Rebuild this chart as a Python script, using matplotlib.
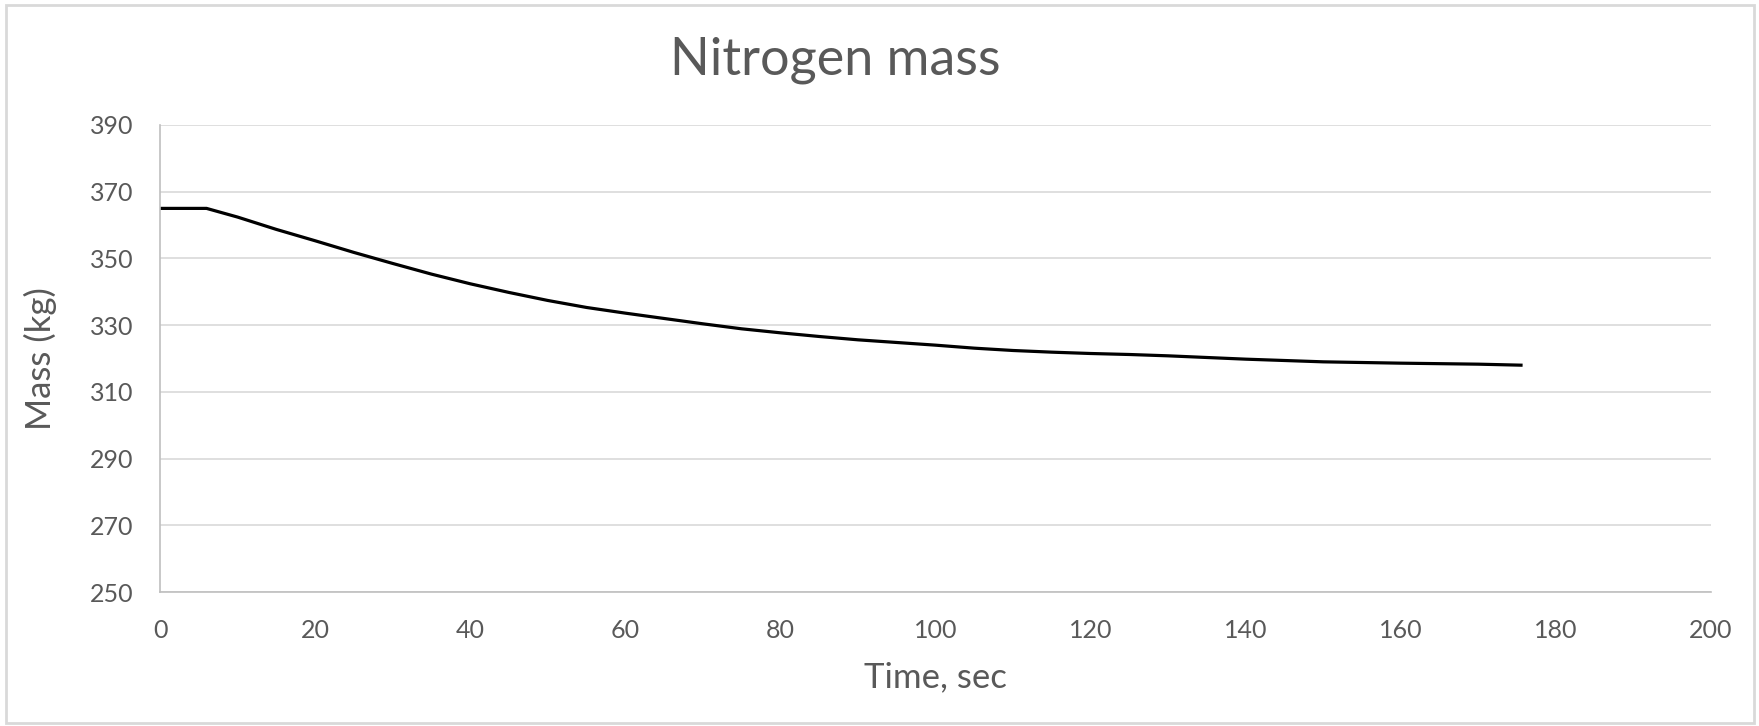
import matplotlib
matplotlib.use("Agg")
from matplotlib import pyplot as plt
from matplotlib.patches import Rectangle

# values
time_s = [0, 6, 10, 15, 20, 25, 30, 35, 40, 45, 50, 55, 60, 65, 70, 75, 80,
          85, 90, 95, 100, 105, 110, 115, 120, 125, 130, 135, 140, 145, 150,
          155, 160, 165, 170, 175.5]
mass_kg = [365, 365, 362.4, 358.7, 355.3, 351.8, 348.5, 345.3, 342.4, 339.8,
           337.4, 335.3, 333.6, 332.0, 330.4, 328.9, 327.7, 326.6, 325.6,
           324.8, 324.0, 323.1, 322.4, 321.9, 321.5, 321.2, 320.8, 320.3,
           319.8, 319.4, 319.0, 318.8, 318.6, 318.45, 318.3, 318.0]
x_ticks = list(range(0, 201, 20))
y_ticks = list(range(250, 391, 20))

text_color = '#595959'
plt.rcParams['font.family'] = ['Lato', 'DejaVu Sans']

fig = plt.figure(figsize=(17.59, 7.26), dpi=100)
ax = fig.add_axes([160 / 1759, 1 - 592 / 726, 1551 / 1759, 467 / 726])

ax.plot(time_s, mass_kg, color='black', linewidth=2.3, solid_joinstyle='round')

ax.set_xlim(0, 200)
ax.set_ylim(250, 390)
ax.set_xticks(x_ticks)
ax.set_yticks(y_ticks)
ax.grid(axis='y', color='#d9d9d9', linewidth=1.2)
ax.set_axisbelow(True)
for side in ['top', 'right']:
    ax.spines[side].set_visible(False)
for side in ['left', 'bottom']:
    ax.spines[side].set_color('#bfbfbf')
    ax.spines[side].set_linewidth(1.2)
ax.tick_params(length=0, labelsize=18, labelcolor=text_color)
ax.tick_params(axis='x', pad=19.5)
ax.tick_params(axis='y', pad=19)

ax.set_xlabel('Time, sec', fontsize=25, color=text_color, labelpad=14)
ax.set_ylabel('Mass (kg)', fontsize=25, color=text_color, labelpad=24)
fig.text(0.475, 0.917, 'Nitrogen mass', fontsize=37.5, color=text_color,
         ha='center', va='center')

# light chart border
fig.patches.append(Rectangle((6 / 1759, 3 / 726), 1748 / 1759, 718 / 726,
                             transform=fig.transFigure, fill=False,
                             edgecolor='#d9d9d9', linewidth=2))

fig.savefig('out.png', dpi=100, facecolor='white')
